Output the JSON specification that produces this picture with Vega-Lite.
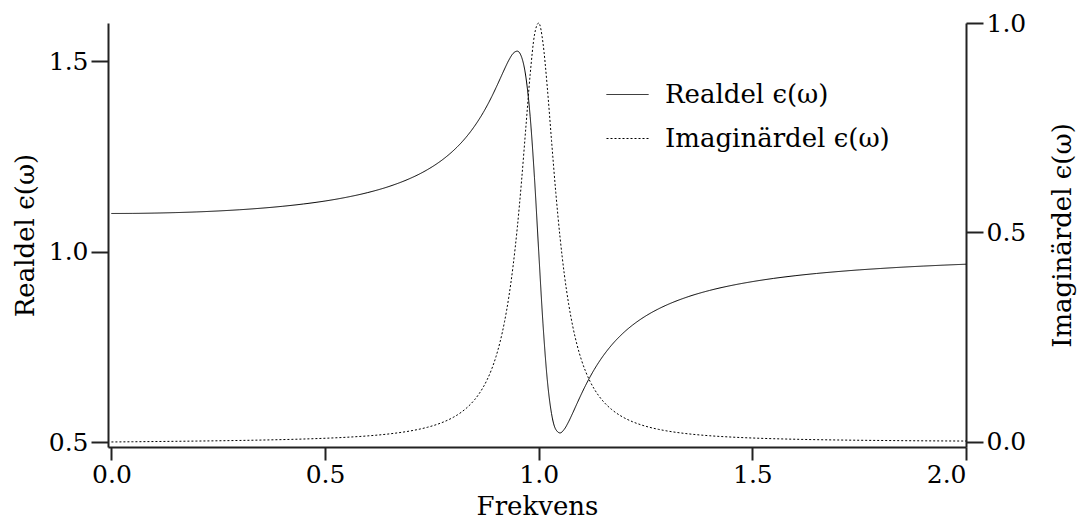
{
  "$schema": "https://vega.github.io/schema/vega-lite/v6.json",
  "autosize": "none",
  "width": 858,
  "height": 424,
  "padding": {"left": 108, "top": 23, "right": 117, "bottom": 83},
  "background": "white",
  "data": {"values": [
    {"w":0,"re":1.1,"im":0},
    {"w":0.05,"re":1.1002,"im":0.0005},
    {"w":0.1,"re":1.101,"im":0.00102},
    {"w":0.15,"re":1.1023,"im":0.00157},
    {"w":0.2,"re":1.1041,"im":0.00217},
    {"w":0.25,"re":1.1066,"im":0.00284},
    {"w":0.3,"re":1.1098,"im":0.00362},
    {"w":0.35,"re":1.1138,"im":0.00454},
    {"w":0.4,"re":1.1188,"im":0.00566},
    {"w":0.45,"re":1.125,"im":0.00705},
    {"w":0.5,"re":1.1327,"im":0.00885},
    {"w":0.55,"re":1.1425,"im":0.01124},
    {"w":0.6,"re":1.1549,"im":0.01452},
    {"w":0.65,"re":1.171,"im":0.01925},
    {"w":0.7,"re":1.1925,"im":0.02642},
    {"w":0.72,"re":1.2031,"im":0.03036},
    {"w":0.74,"re":1.2153,"im":0.03521},
    {"w":0.76,"re":1.2293,"im":0.04126},
    {"w":0.78,"re":1.2456,"im":0.04892},
    {"w":0.8,"re":1.2647,"im":0.05882},
    {"w":0.81,"re":1.2755,"im":0.06489},
    {"w":0.82,"re":1.2872,"im":0.0719},
    {"w":0.83,"re":1.3001,"im":0.08006},
    {"w":0.84,"re":1.3141,"im":0.08962},
    {"w":0.85,"re":1.3295,"im":0.10091},
    {"w":0.86,"re":1.3463,"im":0.11436},
    {"w":0.87,"re":1.3646,"im":0.1305},
    {"w":0.88,"re":1.3847,"im":0.15007},
    {"w":0.89,"re":1.4065,"im":0.17402},
    {"w":0.9,"re":1.4299,"im":0.20362},
    {"w":0.91,"re":1.4544,"im":0.24054},
    {"w":0.92,"re":1.4791,"im":0.28699},
    {"w":0.93,"re":1.5022,"im":0.34571},
    {"w":0.94,"re":1.52,"im":0.41992},
    {"w":0.95,"re":1.5261,"im":0.51265},
    {"w":0.96,"re":1.5103,"im":0.62488},
    {"w":0.97,"re":1.4581,"im":0.75182},
    {"w":0.98,"re":1.3545,"im":0.87719},
    {"w":0.99,"re":1.1952,"im":0.97087},
    {"w":1.0,"re":1.0,"im":1.0},
    {"w":1.01,"re":0.8105,"im":0.95238},
    {"w":1.02,"re":0.6643,"im":0.84746},
    {"w":1.03,"re":0.5747,"im":0.71938},
    {"w":1.04,"re":0.533,"im":0.59514},
    {"w":1.05,"re":0.5239,"im":0.48767},
    {"w":1.06,"re":0.5338,"im":0.3998},
    {"w":1.07,"re":0.5534,"im":0.32979},
    {"w":1.08,"re":0.5772,"im":0.27444},
    {"w":1.09,"re":0.602,"im":0.23062},
    {"w":1.1,"re":0.6263,"im":0.19573},
    {"w":1.11,"re":0.6493,"im":0.1677},
    {"w":1.12,"re":0.6707,"im":0.14496},
    {"w":1.13,"re":0.6904,"im":0.12634},
    {"w":1.14,"re":0.7084,"im":0.11094},
    {"w":1.15,"re":0.7249,"im":0.0981},
    {"w":1.16,"re":0.7399,"im":0.08729},
    {"w":1.17,"re":0.7537,"im":0.07812},
    {"w":1.18,"re":0.7663,"im":0.07028},
    {"w":1.19,"re":0.7778,"im":0.06353},
    {"w":1.2,"re":0.7885,"im":0.05769},
    {"w":1.22,"re":0.8073,"im":0.04814},
    {"w":1.24,"re":0.8234,"im":0.04074},
    {"w":1.26,"re":0.8373,"im":0.03489},
    {"w":1.28,"re":0.8494,"im":0.03019},
    {"w":1.3,"re":0.86,"im":0.02637},
    {"w":1.35,"re":0.8816,"im":0.01943},
    {"w":1.4,"re":0.898,"im":0.01487},
    {"w":1.45,"re":0.9108,"im":0.01173},
    {"w":1.5,"re":0.9211,"im":0.00946},
    {"w":1.55,"re":0.9296,"im":0.00778},
    {"w":1.6,"re":0.9366,"im":0.00651},
    {"w":1.65,"re":0.9425,"im":0.00551},
    {"w":1.7,"re":0.9475,"im":0.00472},
    {"w":1.75,"re":0.9519,"im":0.00408},
    {"w":1.8,"re":0.9556,"im":0.00356},
    {"w":1.85,"re":0.959,"im":0.00313},
    {"w":1.9,"re":0.9619,"im":0.00277},
    {"w":1.95,"re":0.9645,"im":0.00247},
    {"w":2.0,"re":0.9668,"im":0.00221}
  ]},
  "layer": [
    {
      "mark": {"type": "line", "color": "black", "strokeWidth": 1, "interpolate": "monotone"},
      "encoding": {
        "x": {"field": "w", "type": "quantitative",
              "scale": {"domain": [-0.008, 2.0], "nice": false, "zero": false},
              "axis": {"title": "Frekvens", "values": [0, 0.5, 1, 1.5, 2], "format": ".1f", "titlePadding": 6, "tickSize": 13, "labelPadding": 2}},
        "y": {"field": "re", "type": "quantitative",
              "scale": {"domain": [0.487, 1.6], "nice": false, "zero": false},
              "axis": {"orient": "left", "title": "Realdel ϵ(ω)", "values": [0.5, 1.0, 1.5], "format": ".1f", "titlePadding": 10}},
        "strokeDash": {"datum": "Realdel ϵ(ω)", "type": "nominal",
              "scale": {"domain": ["Realdel ϵ(ω)", "Imaginärdel ϵ(ω)"], "range": [[1, 0], [2, 2]]},
              "legend": {"title": null, "orient": "none", "legendX": 498, "legendY": 50}}
      }
    },
    {
      "mark": {"type": "line", "color": "black", "strokeWidth": 1, "interpolate": "monotone"},
      "encoding": {
        "x": {"field": "w", "type": "quantitative"},
        "y": {"field": "im", "type": "quantitative",
              "scale": {"domain": [-0.012, 1.0], "nice": false, "zero": false},
              "axis": {"orient": "right", "title": "Imaginärdel ϵ(ω)", "values": [0, 0.5, 1.0], "format": ".1f", "titleAngle": -90, "titleBaseline": "top", "titlePadding": 24}},
        "strokeDash": {"datum": "Imaginärdel ϵ(ω)", "type": "nominal"}
      }
    }
  ],
  "resolve": {"scale": {"y": "independent"}},
  "config": {
    "view": {"stroke": null},
    "font": "DejaVu Serif",
    "axis": {
      "grid": false,
      "domainColor": "#222222",
      "domainWidth": 2,
      "tickColor": "#222222",
      "tickWidth": 2,
      "tickSize": 17,
      "labelFontSize": 25,
      "titleFontSize": 26,
      "labelColor": "black",
      "titleColor": "black",
      "titleFontWeight": "normal",
      "labelPadding": 3,
      "labelFont": "DejaVu Serif",
      "titleFont": "DejaVu Serif"
    },
    "legend": {
      "symbolType": "stroke",
      "symbolSize": 1764,
      "symbolStrokeWidth": 1,
      "symbolStrokeColor": "black",
      "labelFontSize": 26,
      "labelFont": "DejaVu Serif",
      "labelColor": "black",
      "labelOffset": 16,
      "rowPadding": 9,
      "padding": 0,
      "labelLimit": 400
    }
  }
}
